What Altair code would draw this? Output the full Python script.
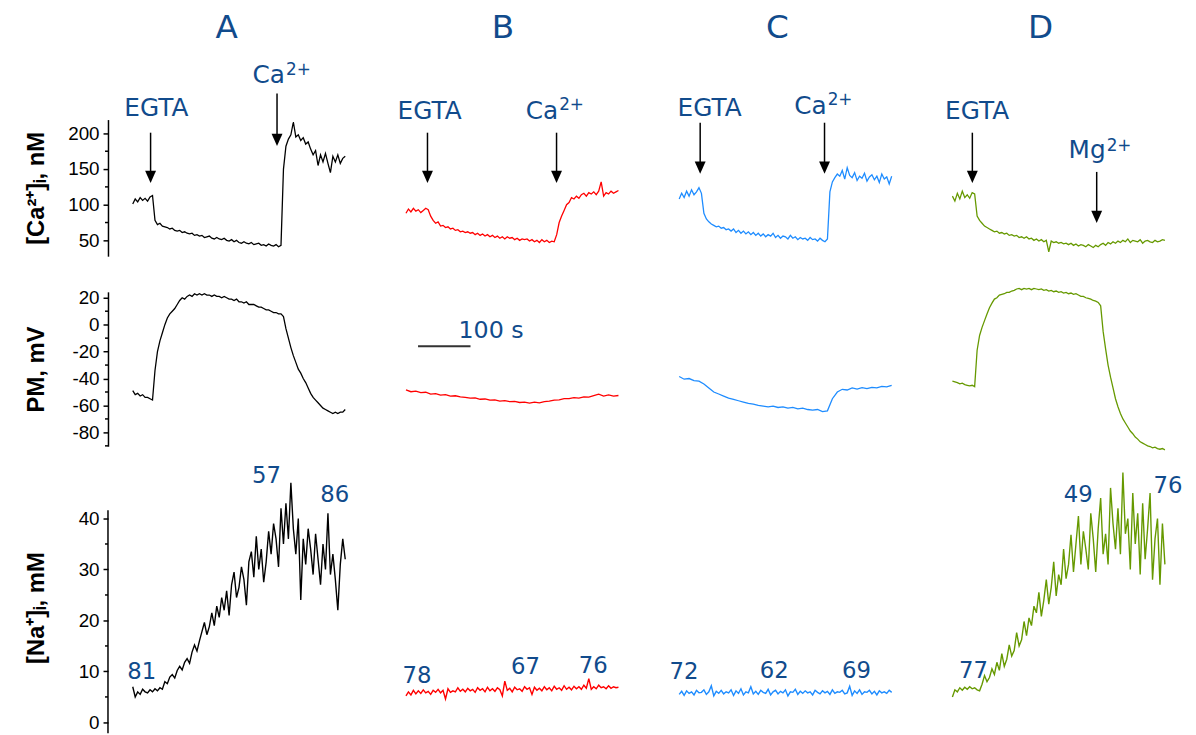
import altair as alt
import pandas as pd

# ---------------- values ----------------
PANELS = ["A", "B", "C", "D"]
DURATION_S = 405  # every recording spans ~405 s

# [Ca2+]i, nM
ca_A = [101, 108, 104, 110, 106, 109, 105, 111, 113,
        78, 72, 74, 70, 69, 68, 66, 67, 64, 63, 64, 61, 62, 60, 59, 60, 57, 58, 56, 57,
        54, 55, 56, 53, 52, 54, 52, 51, 53, 50, 49, 51, 48, 50, 47, 46, 48, 46, 45, 47,
        44, 45, 46, 43, 44, 42, 45, 43, 42, 44, 41, 43,
        150, 182, 192, 198, 216, 195, 198, 190, 194, 185, 188, 178, 170, 176, 155, 170,
        160, 172, 158, 145, 168, 160, 170, 158, 165, 168]
ca_B = [88, 94, 90, 95, 91, 93, 89, 92, 95, 93,
        84, 78, 74, 76, 70, 71, 68, 69, 66, 67, 64,
        65, 62, 63, 61, 62, 60, 61, 58, 60, 57, 59, 56, 58, 55, 57, 54, 56, 53, 55, 52,
        55, 53, 54, 51, 53, 50, 52, 51,
        52, 49, 51, 48, 50, 47, 51, 48, 50, 47, 49, 48,
        58, 75, 84, 92, 100, 103, 110, 108, 112, 109, 114, 116, 112, 117, 115, 118, 114,
        119, 132, 112, 117, 115, 119, 116, 118, 120]
ca_C = [108, 116, 110, 119, 112, 121, 114, 118, 124, 116,
        88, 80, 76, 73, 71, 69, 70, 67, 68, 65, 66,
        63, 66, 61, 64, 60, 63, 59, 62, 58, 61, 57, 60, 56, 59, 55, 58, 56, 60, 54, 57,
        53, 56, 55, 52, 57, 53, 55, 51, 54, 52, 53, 50, 54, 51, 52, 49, 53, 50, 48,
        52, 118, 132, 138, 143, 140, 148, 136, 152, 141, 138, 145, 134, 140, 137, 144,
        133, 139, 142, 135, 140, 131, 143, 136, 139, 129, 140]
ca_D = [112, 105, 116, 108, 119, 110, 114, 109, 117, 115,
        84, 78, 74, 70, 68, 66, 64, 62, 63, 60, 61,
        59, 60, 57, 58, 56, 57, 54, 55, 53, 55, 52, 53, 50, 52, 49, 51, 48, 50, 34, 49,
        47, 48, 46, 47, 45, 46, 44, 46, 43, 45, 42, 44, 43, 41, 44, 42, 40, 43,
        41, 44, 46, 43, 47, 45, 48, 46, 49, 47, 50, 48, 52, 47, 50, 49, 48, 51, 46, 49,
        50, 48, 47, 50, 48, 49, 51, 50]

# PM, mV
pm_A = [-49, -52, -51, -53, -52, -54, -54, -55, -56,
        -34, -20, -12, -6, 0, 5, 8, 10, 12, 15, 18, 20, 19, 21, 22, 21, 23, 22, 23, 22,
        23, 22, 22, 21, 22, 21, 21, 20, 21, 20, 19, 19, 18, 19, 17, 17, 16, 17, 15, 15,
        15, 14, 13, 13, 12, 11, 11, 10, 9, 9, 8, 8,
        6, -3, -10, -17, -23, -28, -33, -36, -40, -43, -47, -51, -54, -56, -58, -60, -62,
        -63, -64, -65, -66, -65, -66, -65, -65, -63]
pm_B = [-48.5, -49.8, -49.3, -50.5, -50.2, -51.6, -51.2, -52.3, -52.0, -53.1, -52.8,
        -53.6, -54.0, -54.6, -54.3, -55.4, -55.2, -56.1, -55.8, -56.7, -56.4, -57.2,
        -57.0, -57.8, -57.5, -58.2, -57.6, -58.0, -57.2, -56.8, -56.0, -55.8, -55.0,
        -54.9, -54.2, -54.5, -53.6, -53.8, -52.7, -51.6, -53.0, -52.2, -53.1, -52.6]
pm_C = [-38.5, -40.5, -40, -41.5, -42, -44, -47, -50, -51.5, -53, -54.5, -55.5, -56.5,
        -57.5, -58.5, -59, -60, -60.5, -61, -60.5, -61.5, -61, -62, -61.5, -62.5, -62,
        -63, -63.5, -63, -64.5, -64, -55, -50, -48, -48.5, -47, -47.8, -46.8, -47.5,
        -46.5, -47, -45.8, -46.2, -45]
pm_D = [-42, -42.5, -43, -44, -43.5, -44.5, -45, -45.5, -45, -46,
        -19, -8, -2, 3, 8, 12.6, 16, 19, 20, 22, 22.5, 23, 24, 24, 25, 25.5, 26.5, 27, 26,
        27, 26.5, 27, 26, 27, 26.5, 26, 26.5, 25.5, 26, 25, 25.5, 24.5, 25, 24, 24.5,
        23.5, 24, 23, 23.5, 22.5, 23, 22, 21, 21, 20, 19.5, 19, 18, 17.5, 16.5, 14,
        -5, -18, -30, -39, -47, -55, -61, -66, -70, -73, -76, -79, -81, -83.5, -85, -87,
        -88, -89, -90, -90.5, -91.5, -91, -92, -92.5, -92, -93]

# [Na+]i, mM
na_A = [7, 5, 6, 5.5, 6.5, 6, 5.8, 6.4, 6, 6.6, 6.2, 6.8, 6.5,
        8, 7.6, 8.9, 9.4, 8.7, 10.2, 11.0, 10.3, 11.8, 12.5, 11.6, 13.8, 15.2, 14.0,
        16.0, 17.8, 19.6, 17.2, 18.8, 21.5, 19.0, 22.8, 20.6, 24.5, 22.0, 25.8, 21.0,
        27.0, 29.5, 24.5,
        26.5, 30.5, 28.0, 23.0, 31.5, 33.5, 28.5, 36.5, 30.0, 34.0, 27.5, 31.5, 37.5,
        33.0, 39.0, 36.0, 30.5, 42.0, 35.0, 43.0,
        36.0, 47.0, 38.0, 33.0, 40.0, 24.0, 36.0, 31.0, 38.0, 34.0, 29.0, 37.0, 32.0,
        27.0, 35.0, 30.0, 41.0, 29.0, 33.0, 28.0, 22.0, 31.0, 36.0, 32.0]
na_B = [5.2, 6.0, 5.4, 6.3, 5.6, 6.2, 5.7, 6.4, 5.8, 6.1, 5.5, 6.3, 5.9, 6.5, 5.8, 6.3,
        4.6, 6.6, 5.9, 6.2, 6.0, 6.8, 6.1, 6.5, 6.0, 6.7, 6.2, 6.5, 5.9, 6.8, 6.3, 6.6,
        6.0, 6.9, 6.2, 6.6, 6.1, 6.8, 6.4, 5.2, 8.1, 6.3, 6.7, 6.0, 6.9, 6.4, 6.6, 6.1,
        7.0, 6.5, 6.8, 5.5, 6.9, 6.3, 6.7, 6.2, 7.0, 6.4, 6.8, 6.2, 7.1, 6.5, 6.8, 6.3,
        7.2, 6.5, 6.9, 6.4, 7.1, 6.6, 7.0, 6.5, 7.3, 6.7, 8.6, 6.5, 7.0, 6.6, 7.3, 6.8,
        7.0, 6.6, 7.2, 6.7, 7.0, 6.8, 6.9]
na_C = [5.5, 6.1, 5.3, 6.2, 5.7, 6.0, 5.4, 6.3, 5.8, 5.9, 6.4, 5.5, 6.0, 7.2, 5.2, 6.1,
        5.7, 6.3, 5.6, 6.0, 5.8, 6.4, 5.3, 6.2, 5.7, 6.6, 5.4, 6.0, 5.8, 7.0, 5.6, 6.1,
        5.5, 6.3, 5.9, 5.7, 6.5, 5.4, 6.0, 6.3, 5.6, 6.1, 5.8, 6.4, 5.2, 6.0, 5.9, 6.5,
        5.5, 6.1, 5.7, 6.2, 5.8, 6.0, 5.4, 6.3, 5.9, 5.6, 6.2, 5.8, 6.1, 5.5, 6.4, 5.7,
        6.0, 5.9, 6.3, 5.6, 5.8, 7.1, 5.3, 6.2, 5.7, 6.4, 5.5, 6.0, 5.9, 6.3, 5.6, 6.1,
        5.4, 6.2, 5.8, 6.0, 5.7, 6.3, 5.9]
na_D = [5.0, 6.4, 6.0, 6.8, 6.3, 6.9, 6.5, 7.0, 6.6, 6.8, 6.4, 6.2,
        7.5, 9.2, 8.0, 8.8, 10.5, 9.4, 11.8, 10.2, 13.5, 11.0, 12.4, 15.2, 13.0, 14.1,
        17.6, 15.0, 16.2, 19.8, 17.0, 20.5,
        19.0, 22.8, 21.5, 25.5, 20.8, 24.0, 28.0, 23.2, 26.5, 31.5, 24.8, 29.0, 27.0,
        34.0, 28.2, 31.0, 36.8, 29.5, 35.0, 40.5,
        31, 37.5, 34, 30, 41, 36, 29.5, 38, 44, 33, 37, 31, 46, 39, 34, 42, 33, 49, 37,
        40, 30, 45, 35, 41, 29, 43, 32, 38, 45, 28, 36, 40, 27, 39, 31]

CA = {"A": ca_A, "B": ca_B, "C": ca_C, "D": ca_D}
PM = {"A": pm_A, "B": pm_B, "C": pm_C, "D": pm_D}
NA = {"A": na_A, "B": na_B, "C": na_C, "D": na_D}

# annotation texts: (panel, text, time s, value)
letters = [("A", "A", 179, 348), ("B", "B", 185, 348), ("C", "C", 187, 348), ("D", "D", 168, 348)]
egta = [("A", "EGTA", 45, 236), ("B", "EGTA", 45, 232), ("C", "EGTA", 58, 236), ("D", "EGTA", 47, 232)]
ion_main = [("A", "Ca", 290, 282), ("B", "Ca", 290, 232), ("C", "Ca", 281, 239), ("D", "Mg", 292, 176)]
ion_sup = [("A", "2+", 292, 289), ("B", "2+", 292, 240), ("C", "2+", 283, 247), ("D", "2+", 294, 182)]
# arrows: (panel, time, top value, tip value) in nM
arrows = [("A", 34, 201, 131), ("A", 275, 256, 183),
          ("B", 41, 201, 131), ("B", 287, 201, 131),
          ("C", 40, 215, 144), ("C", 277, 215, 144),
          ("D", 38, 201, 131), ("D", 275, 146, 75)]
na_labels = [("A", "81", 17, 9.9), ("A", "57", 255, 48.3), ("A", "86", 385, 44.5),
             ("B", "78", 21, 9.1), ("B", "67", 228, 10.9), ("B", "76", 357, 11.1),
             ("C", "72", 9, 9.9), ("C", "62", 181, 10.1), ("C", "69", 338, 10.1),
             ("D", "77", 40, 10.1), ("D", "49", 240, 44.5), ("D", "76", 411, 46.4)]
scale_bar = {"t0": 23, "t1": 123, "v": -16, "label": "100 s", "label_t": 100, "label_v": -5}

CA_TICKS, CA_MINOR = [50, 100, 150, 200], [75, 125, 175]
PM_TICKS, PM_MINOR = [20, 0, -20, -40, -60, -80], [10, -10, -30, -50, -70, -90]
NA_TICKS, NA_MINOR = [0, 10, 20, 30, 40], [5, 15, 25, 35]
NA_AXIS_RANGE = [-2.1, 41.6]

# ---------------- styling / layout ----------------
COLORS = {"A": "#000000", "B": "#ff0000", "C": "#1e8cff", "D": "#669900"}
TXT = "#114b8c"
TFONT = "DejaVu Sans"
PX_PER_S = 0.53
W = 248
X_DOM = [-47.2, -47.2 + W / PX_PER_S]
ROWS = {
    "ca": dict(h=138, dom=[27.8, 219.4], ticks=CA_TICKS, minor=CA_MINOR, title="[Ca²⁺]ᵢ, nM"),
    "pm": dict(h=156, dom=[-90.3, 24.4], ticks=PM_TICKS, minor=PM_MINOR, title="PM, mV"),
    "na": dict(h=254, dom=[-2.14, 47.18], ticks=NA_TICKS, minor=NA_MINOR, title="[Na⁺]ᵢ, mM"),
}
TRACES = {"ca": CA, "pm": PM, "na": NA}


def trace_df(vals):
    n = len(vals)
    return pd.DataFrame({"t": [i * DURATION_S / (n - 1) for i in range(n)], "v": vals})


def xs():
    return alt.X("t:Q", scale=alt.Scale(domain=X_DOM, nice=False, zero=False), axis=None)


def yscale(row):
    return alt.Scale(domain=ROWS[row]["dom"], nice=False, zero=False)


def ys(row, axis, field="v:Q"):
    return alt.Y(field, scale=yscale(row), axis=axis)


def texts(items, panel, row, axis, size, align="center", baseline="middle"):
    rows = [{"t": t, "v": v, "label": s} for (p, s, t, v) in items if p == panel]
    if not rows:
        return []
    return [alt.Chart(pd.DataFrame(rows)).mark_text(
        font=TFONT, fontSize=size, color=TXT, align=align, baseline=baseline
    ).encode(x=xs(), y=ys(row, axis), text="label:N")]


def panel(p, row):
    cfg = ROWS[row]
    axis = None
    if p == "A":
        axis = alt.Axis(title=cfg["title"], values=cfg["ticks"], tickSize=5,
                        labelExpr="'' + datum.value", titleX=-65,
                        titleBaseline="alphabetic", grid=False,
                        domain=(row != "na"),
                        labelOverlap=False, labelFlush=False)
    sw = 1.4 if row == "na" else 1.3
    layers = [alt.Chart(trace_df(TRACES[row][p])).mark_line(
        color=COLORS[p], strokeWidth=sw).encode(x=xs(), y=ys(row, axis))]
    if p == "A":
        layers.append(alt.Chart(pd.DataFrame({"v": cfg["minor"]})).mark_rule(
            color="black", strokeWidth=1.5).encode(
            y=ys(row, axis), x=alt.value(-3), x2=alt.value(0)))
        if row == "na":
            layers.append(alt.Chart(pd.DataFrame(
                {"v": [NA_AXIS_RANGE[0]], "v2": [NA_AXIS_RANGE[1]]})).mark_rule(
                color="black", strokeWidth=1.5).encode(
                y=ys(row, axis), y2="v2:Q", x=alt.value(0)))
    if row == "ca":
        layers += texts(letters, p, row, axis, 33)
        layers += texts(egta, p, row, axis, 25)
        layers += texts(ion_main, p, row, axis, 25, align="right")
        layers += texts(ion_sup, p, row, axis, 17, align="left")
        arr = pd.DataFrame([{"t": t, "v": top, "v2": tip + 8, "tip": tip + 8}
                            for (q, t, top, tip) in arrows if q == p])
        layers.append(alt.Chart(arr).mark_rule(color="black", strokeWidth=1.5).encode(
            x=xs(), y=ys(row, axis), y2="v2:Q"))
        layers.append(alt.Chart(arr).mark_point(
            shape="M-0.9,-1L0.9,-1L0,1Z", size=150, filled=True, color="black",
            opacity=1, strokeWidth=0).encode(x=xs(), y=ys(row, axis, field="tip:Q")))
    if row == "pm" and p == "B":
        sb = pd.DataFrame([{"t": scale_bar["t0"], "t2": scale_bar["t1"], "v": scale_bar["v"]}])
        layers.append(alt.Chart(sb).mark_rule(color="#333333", strokeWidth=2).encode(
            x=xs(), x2="t2:Q", y=ys(row, axis)))
        layers += texts([("B", scale_bar["label"], scale_bar["label_t"], scale_bar["label_v"])],
                        p, row, axis, 24, align="left")
    if row == "na":
        layers += texts(na_labels, p, row, axis, 23)
    return alt.layer(*layers).properties(width=W, height=cfg["h"])


panels = [panel(p, row) for row in ["ca", "pm", "na"] for p in PANELS]

chart = alt.concat(*panels, columns=4, spacing={"row": 36, "column": 28},
                   bounds="flush").properties(
    padding={"left": 16, "top": 0, "right": 5, "bottom": 0}
).configure_view(strokeWidth=0).configure_axis(
    domainColor="black", domainWidth=1.5, tickColor="black", tickWidth=1.5,
    labelFont="Liberation Sans", labelFontSize=19, labelColor="black", labelPadding=4,
    titleFont="Liberation Sans", titleFontSize=24, titleFontWeight="bold",
    titleColor="black"
)

chart.save("out.html", embed_options={"renderer": "svg", "actions": False})
